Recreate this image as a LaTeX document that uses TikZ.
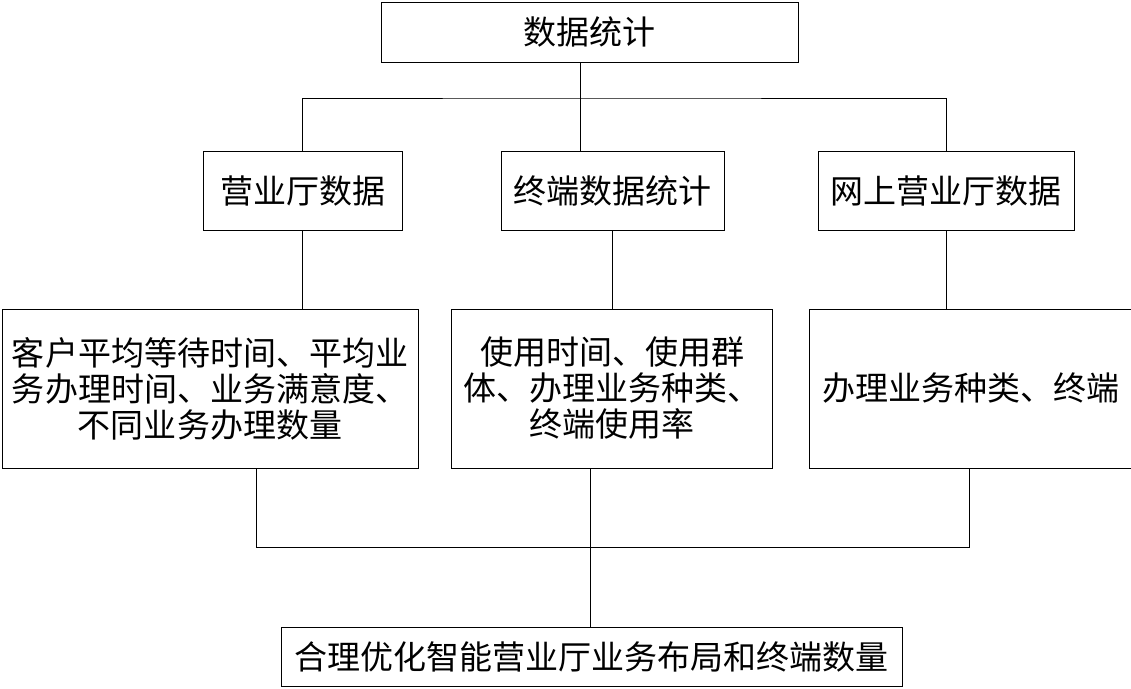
\documentclass[tikz,border=0pt]{standalone}
\usepackage{fontspec}
\newfontfamily\cjk{Noto Sans CJK SC}
\usepackage{tikz}
\usetikzlibrary{positioning,calc}
\tikzset{>=latex}
\tikzset{box/.style={draw,line width=1pt,inner sep=0pt,align=center,
    font=\cjk\fontsize{33}{36}\selectfont}}

\begin{document}
\begin{tikzpicture}[x=1pt,y=-1pt,line width=1pt]
      \useasboundingbox (0,0) rectangle (1131,688);
      \node [box,minimum width=417,minimum height=60] (stat) at (589.5,32) {数据统计};

      \node [box,minimum width=199,minimum height=79] (hall) at (302.5,190.5) {营业厅数据};
      \node [box,minimum width=223,minimum height=79] (term) at (612.5,190.5) {终端数据统计};
      \node [box,minimum width=256,minimum height=79] (online) at (946,190.5) {网上营业厅数据};

      \node [box,minimum width=416,minimum height=159] (hallD) at (210,388.5)
        {客户平均等待时间、平均业\\务办理时间、业务满意度、\\不同业务办理数量};
      \node [box,minimum width=321,minimum height=159] (termD) at (612,388.5)
        {使用时间、使用群\\体、办理业务种类、\\终端使用率};
      \node [box,minimum width=324,minimum height=159] (onlineD) at (971,388.5)
        {办理业务种类、终端};

      \node [box,minimum width=621,minimum height=59] (result) at (591.5,656.5)
        {合理优化智能营业厅业务布局和终端数量};

      % upper tree
      \coordinate (split) at (580,98);
      \draw (stat.south -| split) -- (split |- term.north);
      \draw (hall.north) |- (split) -| (online.north);
      \draw (hall.south) -- (hall.south |- hallD.north);
      \draw (term.south) -- (term.south |- termD.north);
      \draw (online.south) -- (online.south |- onlineD.north);

      % lower merge
      \coordinate (merge) at (590,547);
      \coordinate (mergeL) at (256,547);
      \coordinate (mergeR) at (969,547);
      \draw (mergeL |- hallD.south) -- (mergeL) -- (mergeR) -- (mergeR |- onlineD.south);
      \draw (merge |- termD.south) -- (merge |- result.north);
    \end{tikzpicture}
\end{document}
